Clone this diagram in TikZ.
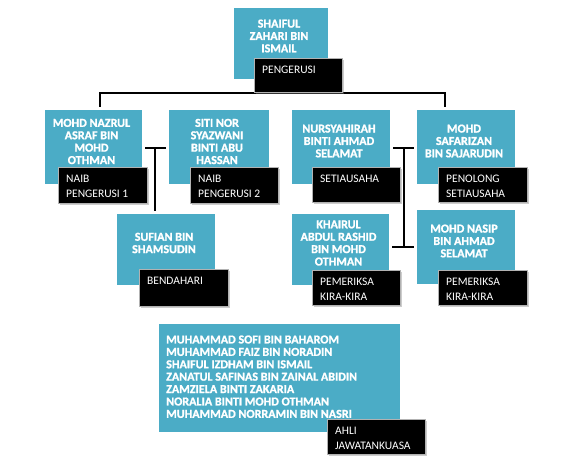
\documentclass[tikz,border=0pt]{standalone}
\usepackage{fontspec}
\setmainfont{Carlito}
\newfontfamily\namefont[BoldFeatures={FakeBold=1.3}]{Carlito}
\usetikzlibrary{shadows,backgrounds}
\definecolor{boxblue}{RGB}{75,172,198}
\tikzset{
 namebox/.style={rectangle, fill=boxblue, draw=white, line width=3pt, anchor=north west, inner sep=0pt,
   drop shadow={opacity=0.4, shadow xshift=1.8pt, shadow yshift=-1.8pt}},
 tagbox/.style={rectangle, fill=black, draw=gray!60, line width=0.6pt, anchor=north west, inner sep=0pt,
   drop shadow={opacity=0.4, shadow xshift=1.5pt, shadow yshift=-1.5pt}},
 nametext/.style={text=white, font=\fontsize{12.1}{12.4}\selectfont\namefont\bfseries, align=center, inner sep=0pt},
 tagtext/.style={text=white, font=\fontsize{11.5}{15}\selectfont, align=left, inner sep=0pt, anchor=north west},
 conn/.style={draw=black, line width=1.6pt},
}
\begin{document}
\begin{tikzpicture}[x=1pt,y=-1pt]
\useasboundingbox (0,0) rectangle (568,474);
% blue boxes
\node[namebox, minimum width=97pt, minimum height=74pt] (P) at (230.5,4.5) {};
\node[namebox, minimum width=100pt, minimum height=77pt] (A) at (41.5,106.5) {};
\node[namebox, minimum width=103pt, minimum height=77pt] (B) at (165.5,106.5) {};
\node[namebox, minimum width=101pt, minimum height=77pt] (C) at (288.5,106.5) {};
\node[namebox, minimum width=101pt, minimum height=77pt] (D) at (413.5,106.5) {};
\node[namebox, minimum width=101pt, minimum height=74pt] (S) at (113.5,210.5) {};
\node[namebox, minimum width=100pt, minimum height=74pt] (K) at (288.5,210.5) {};
\node[namebox, minimum width=101pt, minimum height=77pt] (N) at (413.5,206.5) {};
\node[namebox, minimum width=244pt, minimum height=111pt] (M) at (155.5,320.5) {};
% names
\node[nametext] (tP) at (279,36) {SHAIFUL\\ZAHARI BIN\\ISMAIL};
\node[nametext] (tA) at (91.5,141.5) {MOHD NAZRUL\\ASRAF BIN\\MOHD\\OTHMAN};
\node[nametext] (tB) at (217,141.5) {SITI NOR\\SYAZWANI\\BINTI ABU\\HASSAN};
\node[nametext] (tC) at (339,141) {NURSYAHIRAH\\BINTI AHMAD\\SELAMAT};
\node[nametext] (tD) at (464,141) {MOHD\\SAFARIZAN\\BIN SAJARUDIN};
\node[nametext] (tS) at (164,243) {SUFIAN BIN\\SHAMSUDIN};
\node[nametext] (tK) at (338.5,243) {KHAIRUL\\ABDUL RASHID\\BIN MOHD\\OTHMAN};
\node[nametext] (tN) at (464,241) {MOHD NASIP\\BIN AHMAD\\SELAMAT};
\node[nametext, align=left, anchor=north west] (tM) at (166,335.3) {MUHAMMAD SOFI BIN BAHAROM\\MUHAMMAD FAIZ BIN NORADIN\\SHAIFUL IZDHAM BIN ISMAIL\\ZANATUL SAFINAS BIN ZAINAL ABIDIN\\ZAMZIELA BINTI ZAKARIA\\NORALIA BINTI MOHD OTHMAN\\MUHAMMAD NORRAMIN BIN NASRI};
% role tags
\node[tagbox, minimum width=88pt, minimum height=34pt] (lP) at (254,58) {};
\node[tagbox, minimum width=89pt, minimum height=36pt] (lA) at (58,167) {};
\node[tagbox, minimum width=88pt, minimum height=36pt] (lB) at (190,167) {};
\node[tagbox, minimum width=88pt, minimum height=35pt] (lC) at (312,167) {};
\node[tagbox, minimum width=89pt, minimum height=35pt] (lD) at (438,167) {};
\node[tagbox, minimum width=89pt, minimum height=37pt] (lS) at (139,269) {};
\node[tagbox, minimum width=88pt, minimum height=35pt] (lK) at (312,270) {};
\node[tagbox, minimum width=89pt, minimum height=35pt] (lN) at (438,270) {};
\node[tagbox, minimum width=98pt, minimum height=35pt] (lM) at (327,419) {};
\node[tagtext] (xP) at (262,65.5) {PENGERUSI};
\node[tagtext] (xA) at (66,174.5) {NAIB\\PENGERUSI 1};
\node[tagtext] (xB) at (198,174.5) {NAIB\\PENGERUSI 2};
\node[tagtext] (xC) at (320,174.5) {SETIAUSAHA};
\node[tagtext] (xD) at (446,174.5) {PENOLONG\\SETIAUSAHA};
\node[tagtext] (xS) at (147,276.5) {BENDAHARI};
\node[tagtext] (xK) at (320,277.5) {PEMERIKSA\\KIRA-KIRA};
\node[tagtext] (xN) at (446,277.5) {PEMERIKSA\\KIRA-KIRA};
\node[tagtext] (xM) at (335,426.5) {AHLI\\JAWATANKUASA};
% connectors
\coordinate (jTop) at (278,93);
\coordinate (jL) at (100,93);
\coordinate (jR) at (445,93);
\coordinate (jAB) at (155,148);
\coordinate (jCD) at (404,148);
\coordinate (jKN) at (404,247);
\begin{pgfonlayer}{background}
\draw[conn] (jTop |- lP.south) -- (jTop);
\draw[conn] (jL |- A.north) -- (jL) -- (jR) -- (jR |- D.north);
\draw[conn] (A.east |- jAB) -- (B.west |- jAB);
\draw[conn] (jAB) -- (jAB |- S.north);
\draw[conn] (C.east |- jCD) -- (D.west |- jCD);
\draw[conn] (jCD) -- (jKN);
\draw[conn] (K.east |- jKN) -- (N.west |- jKN);
\end{pgfonlayer}
\end{tikzpicture}
\end{document}
